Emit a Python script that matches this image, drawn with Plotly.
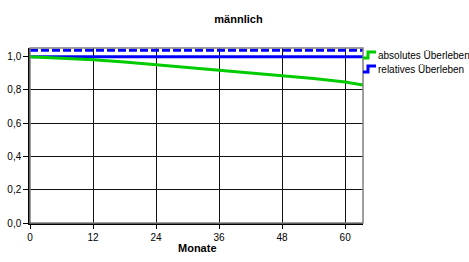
import plotly.graph_objects as go

# ---- data ----
monate = [0, 6, 12, 18, 24, 30, 36, 42, 48, 54, 60, 63.4]
absolutes_ueberleben = [1.0, 0.992, 0.982, 0.968, 0.952, 0.935, 0.917, 0.901, 0.885, 0.868, 0.847, 0.830]
relatives_ueberleben = [1.0] * len(monate)
relatives_oben = [1.038] * len(monate)
x_ticks = [0, 12, 24, 36, 48, 60]
y_ticks = [0.0, 0.2, 0.4, 0.6, 0.8, 1.0]
serien_namen = ["absolutes Überleben", "relatives Überleben"]
titel = "männlich"
x_titel = "Monate"

GREEN = "#00cc00"
BLUE = "#0000ff"
W, H = 469, 262
L, T = 30, 48
PR, PB = 363, 223  # plot right / bottom in px
R, B = W - PR, H - PB
FONT = "Liberation Sans, Arial, sans-serif"

fig = go.Figure()
fig.add_trace(go.Scatter(x=monate, y=relatives_oben, mode="lines",
                         line=dict(color=BLUE, width=3, dash="8px,3px"), showlegend=False))
fig.add_trace(go.Scatter(x=monate, y=relatives_ueberleben, mode="lines",
                         line=dict(color=BLUE, width=3), name=serien_namen[1], showlegend=False))
fig.add_trace(go.Scatter(x=monate, y=absolutes_ueberleben, mode="lines",
                         line=dict(color=GREEN, width=3), name=serien_namen[0], showlegend=False))

pw = W - L - R
ph = H - T - B
def px(xp):  # page px -> paper
    return (xp - L) / pw
def py(yp):
    return 1 - (yp - T) / ph

shapes = [
    dict(type="rect", xref="paper", yref="paper", x0=0, x1=1, y0=0, y1=1,
         line=dict(color="#808080", width=1.5), layer="above"),
]
annotations = []
legend_items = [(serien_namen[0], GREEN, 52, 58, 55.5), (serien_namen[1], BLUE, 66, 72, 69)]
for name, col, ytop, ybot, ytxt in legend_items:
    path = (f"M {px(363)},{py(ybot)} L {px(368)},{py(ybot)} L {px(368)},{py(ytop)} "
            f"L {px(376)},{py(ytop)}")
    shapes.append(dict(type="path", xref="paper", yref="paper", path=path,
                       line=dict(color=col, width=3)))
    annotations.append(dict(text=name, xref="paper", yref="paper", x=px(376), y=py(ytxt),
                            xanchor="left", yanchor="middle", showarrow=False,
                            font=dict(size=10, color="black", family=FONT)))
annotations.append(dict(text=f"<b>{x_titel}</b>", xref="paper", yref="paper", x=px(197),
                        y=py(248), xanchor="center", yanchor="middle", showarrow=False,
                        font=dict(size=11, color="black", family=FONT)))

fig.update_layout(
    width=W, height=H,
    margin=dict(l=L, r=R, t=T, b=B, autoexpand=False),
    paper_bgcolor="white", plot_bgcolor="white",
    separators=",.",
    font=dict(family=FONT, color="black", size=10),
    title=dict(text=f"<b>{titel}</b>", x=238.5 / W, xanchor="center",
               y=1 - 19 / H, yanchor="middle",
               font=dict(size=11, family=FONT, color="black")),
    xaxis=dict(range=[0, 63.4], tickvals=x_ticks, showgrid=True, gridcolor="#111", gridwidth=1.2,
               showline=True, linecolor="black", linewidth=1.5, ticks="outside", ticklen=4,
               tickcolor="black", zeroline=False, automargin=False,
               tickfont=dict(size=10, family=FONT, color="black")),
    yaxis=dict(range=[0, 1.052], tickvals=y_ticks, tickformat=".1f", showgrid=True,
               gridcolor="#111", gridwidth=1.2, showline=True, linecolor="black", linewidth=1.5,
               ticks="outside", ticklen=5, tickcolor="black", zeroline=False, automargin=False,
               tickfont=dict(size=10, family=FONT, color="black")),
    shapes=shapes, annotations=annotations, showlegend=False,
)

fig.write_html("out.html", config={"displayModeBar": False},
               post_script="document.body.style.margin='0';document.body.style.overflow='hidden';")
